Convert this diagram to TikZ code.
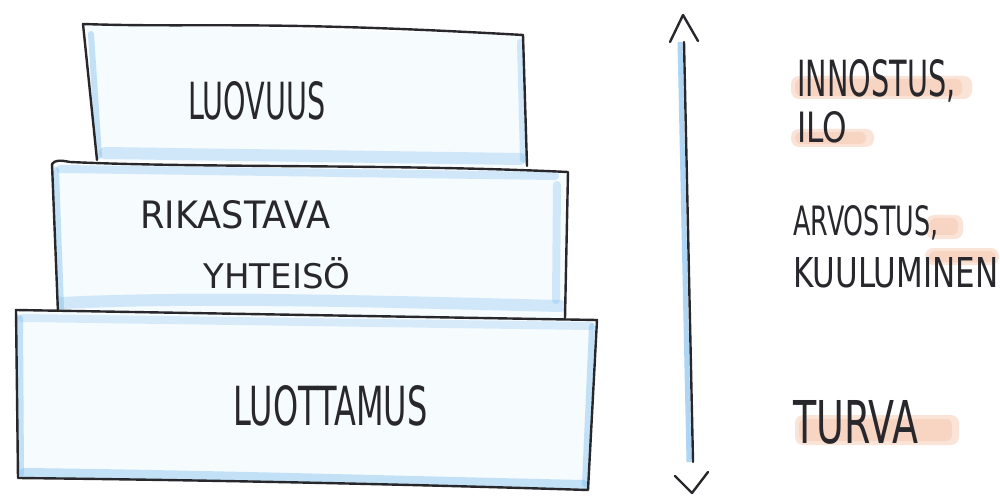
\documentclass[tikz,border=0pt]{standalone}
\usepackage{fontspec}
\usepackage{graphicx}
\newfontfamily\hwfont{DejaVu Sans}
\newdimen\pxu \pxu=0.5pt
\newcommand\hw[3]{\resizebox{#1\pxu}{#2\pxu}{\hwfont #3}}
\definecolor{boxfill}{RGB}{246,251,254}
\definecolor{wash}{RGB}{120,186,236}
\definecolor{hlc}{RGB}{246,196,170}
\definecolor{ink}{RGB}{40,40,44}
\tikzset{
  inkline/.style={draw=ink, line width=1.2pt, line join=round, line cap=round},
  washline/.style={draw=wash, line width=3pt, opacity=0.4, line cap=round},
  lbl/.style={anchor=base west, inner sep=0pt, text=ink},
  hl/.style={fill=hlc, opacity=0.45, rounded corners=4pt, draw=none},
  hlcore/.style={fill=hlc, opacity=0.45, rounded corners=3pt, draw=none},
}
\begin{document}
\begin{tikzpicture}[x=0.5pt, y=-0.5pt]
\useasboundingbox (0,0) rectangle (1000,497);
\fill[white] (0,0) rectangle (1000,497);

% ---------- top box ----------
\fill[boxfill] (83,24) -- (523,35) -- (526,168) -- (97,160) -- cycle;
\draw[washline] (91,34) -- (99,156);
\draw[washline, line width=6pt, opacity=0.3] (105,153) -- (520,159);
\draw[washline, opacity=0.3] (520,42) -- (523,160);
\draw[inkline] (97,160) -- (83,24) .. controls (200,28) and (260,20) .. (523,35) -- (527,166);

% ---------- middle box ----------
\fill[boxfill] (52,164) -- (568,172) -- (565,318) -- (58,313) -- cycle;
\draw[washline] (56,170) -- (61,308);
\draw[washline, line width=6pt, opacity=0.3] (62,303) .. controls (200,296) and (400,302) .. (560,306);
\draw[washline, line width=4pt, opacity=0.3] (557,185) -- (556,300);
\draw[washline, line width=4pt, opacity=0.3] (60,169) -- (555,176);
\draw[inkline] (58,313) -- (52,164) .. controls (55,160) and (60,160) .. (70,162)
   .. controls (200,168) and (400,164) .. (568,172) -- (565,318);

% ---------- bottom box ----------
\fill[boxfill] (16,310) -- (597,320) -- (588,490) -- (17,478) -- cycle;
\draw[washline] (20,318) -- (21,474);
\draw[washline, line width=5pt, opacity=0.4] (24,473) .. controls (200,475) and (400,481) .. (584,485);
\draw[washline] (592,326) -- (585,484);
\draw[washline, line width=4pt, opacity=0.25] (22,318) -- (590,326);
\draw[inkline] (16,310) -- (597,320) -- (588,490) .. controls (400,484) and (200,480) .. (18,478) -- cycle;

% ---------- box labels ----------
\node[lbl] (luovuus) at (188,120) {\hw{137}{38}{LUOVUUS}};
\node[lbl] (rikastava) at (140,228) {\hw{190}{28}{RIKASTAVA}};
\node[lbl] (yhteiso) at (203,288) {\hw{147}{31}{YHTEISÖ}};
\node[lbl] (luottamus) at (233,425) {\hw{194}{40}{LUOTTAMUS}};

% ---------- vertical arrow ----------
\coordinate (atop) at (684,42);
\coordinate (abot) at (693,462);
\coordinate (ttip) at (683,15);
\coordinate (btip) at (692,493);
\draw[draw=wash, line width=2.5pt, opacity=0.6] ([xshift=-2pt]atop) -- ([xshift=-2pt]abot);
\draw[inkline] (atop) -- (abot);
\draw[inkline] (670,42) -- (ttip) -- (698,41);
\draw[inkline] (675,476) -- (btip) -- (708,472);

% ---------- highlights ----------
\path[hl] (791,76) rectangle (972,99);
\path[hlcore] (795,79) rectangle (962,96);
\path[hl] (791,129) rectangle (874,147);
\path[hlcore] (795,132) rectangle (866,144);
\path[hl] (926,215) rectangle (963,239);
\path[hlcore] (930,218) rectangle (958,235);
\path[hl] (925,248) rectangle (999,265);
\path[hlcore] (929,251) rectangle (996,262);
\path[hl] (795,415) rectangle (959,445);
\path[hlcore] (799,419) rectangle (952,441);

% ---------- right labels ----------
\node[lbl] (innostus) at (797,97) {\hw{158}{37}{INNOSTUS,}};
\node[lbl] (ilo) at (797,143) {\hw{50}{31}{ILO}};
\node[lbl] (arvostus) at (793,235) {\hw{145}{30}{ARVOSTUS,}};
\node[lbl] (kuuluminen) at (793,287) {\hw{205}{30}{KUULUMINEN}};
\node[lbl] (turva) at (793,443) {\hw{125}{43}{TURVA}};
\end{tikzpicture}
\end{document}
